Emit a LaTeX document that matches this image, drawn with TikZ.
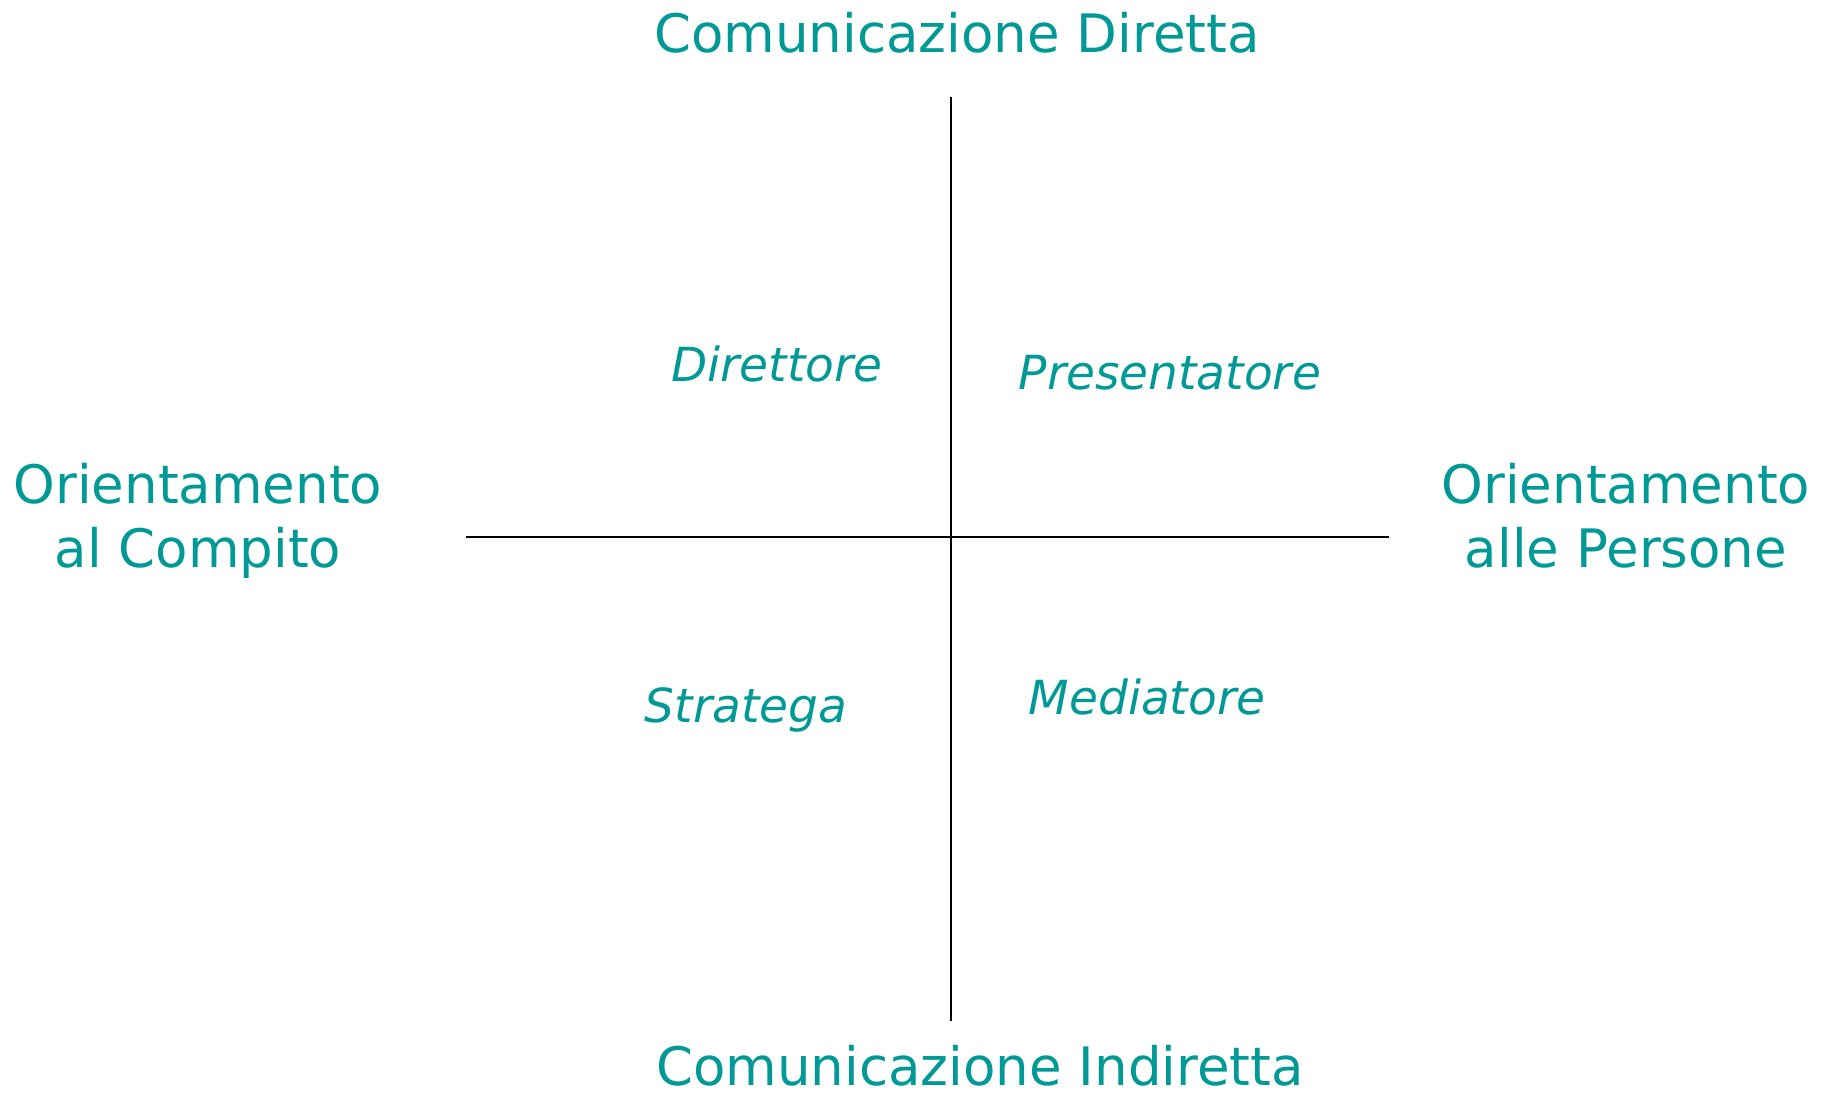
\documentclass[tikz,border=0pt]{standalone}
\usepackage{fontspec}
\setmainfont{DejaVu Sans}
\usepackage{tikz}
\usetikzlibrary{positioning}
\definecolor{teal}{RGB}{0,153,150}

\begin{document}
\begin{tikzpicture}[x=1pt,y=-1pt,node distance=100pt,on grid,
  axis/.style={draw=black,line width=1.6pt},
  pole/.style={text=teal,inner sep=0pt,anchor=base,align=center,
    font=\fontsize{53}{64}\selectfont},
  role/.style={text=teal,inner sep=0pt,anchor=base,
    font=\fontsize{47}{56}\selectfont\itshape}]
  \useasboundingbox (0,0) rectangle (1825,1093);

  \node[coordinate] (o) at (951,537) {};
  \node[coordinate] (top) [above = 440pt of o] {};
  \node[coordinate] (bot) [below = 484pt of o] {};
  \node[coordinate] (lft) [left = 485pt of o] {};
  \node[coordinate] (rgt) [right = 438pt of o] {};

  \node[pole] (dir) at (957,52) {Comunicazione Diretta};
  \node[pole,text depth=0pt] (ind) at (980,1085) {Comunicazione Indiretta};
  \node[pole] (cmp) at (198,567) {Orientamento\\al Compito};
  \node[pole] (per) at (1626,567) {Orientamento\\alle Persone};

  \node[role] (q1) at (777,381) {Direttore};
  \node[role] (q2) at (1170,389) {Presentatore};
  \node[role] (q3) at (746,722) {Stratega};
  \node[role] (q4) at (1147,714) {Mediatore};

  \draw[axis] (top) -- (bot);
  \draw[axis] (lft) -- (rgt);
\end{tikzpicture}
\end{document}
